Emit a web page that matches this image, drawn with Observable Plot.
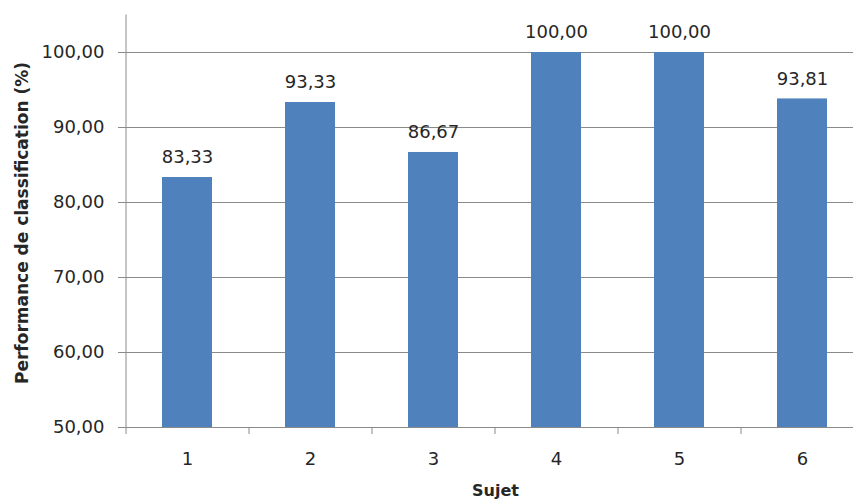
<!DOCTYPE html>
<html>
<head>
<meta charset="utf-8">
<script src="https://cdn.jsdelivr.net/npm/d3@7"></script>
<script src="https://cdn.jsdelivr.net/npm/@observablehq/plot@0.6"></script>
<style>
  html, body { margin: 0; padding: 0; background: #fff; }
  #chart svg { display: block; }
</style>
</head>
<body>
<div id="chart"></div>
<script>
const sujets = [1, 2, 3, 4, 5, 6];
const performance = [83.33, 93.33, 86.67, 100.00, 100.00, 93.81];
const yTicks = [50, 60, 70, 80, 90, 100];
const xTitle = "Sujet";
const yTitle = "Performance de classification (%)";

const data = sujets.map((s, i) => ({sujet: s, value: performance[i]}));
const fmt = v => v.toFixed(2).replace(".", ",");
const bandEdges = sujets.map(s => s - 0.5).concat([sujets[sujets.length - 1] + 0.5]);

const gridColor = "#8a8a8a";
const textColor = "#262626";
const barColor = "#4f81bd";

const chart = Plot.plot({
  width: 853,
  height: 499,
  marginLeft: 125,
  marginRight: 0,
  marginTop: 14,
  marginBottom: 72,
  style: {fontFamily: "DejaVu Sans", fontSize: "18px", color: textColor, background: "#fff"},
  x: {type: "linear", domain: [0.5, 6.5], range: [125.5, 863.5]},
  y: {domain: [50, 105], range: [427, 14.5]},
  marks: [
    Plot.gridY(yTicks, {stroke: gridColor, strokeOpacity: 1, strokeWidth: 1}),
    Plot.rectY(data, {
      x1: d => d.sujet - 0.5, x2: d => d.sujet + 0.5,
      y1: 50, y2: "value",
      fill: barColor, insetLeft: 36.5, insetRight: 36.5
    }),
    Plot.ruleX([0.5], {y1: 50, y2: 105, stroke: gridColor, strokeWidth: 1}),
    Plot.axisY({
      ticks: yTicks, tickFormat: fmt, tickSize: 7, tickPadding: 14,
      stroke: gridColor, strokeOpacity: 1, fill: textColor, fontSize: 18, label: null
    }),
    Plot.axisX({
      ticks: bandEdges, tickFormat: () => "", tickSize: 7,
      stroke: gridColor, strokeOpacity: 1, label: null
    }),
    Plot.axisX({
      ticks: sujets, tickFormat: d => String(d), tickSize: 0, tickPadding: 25,
      fill: textColor, fontSize: 18, label: null
    }),
    Plot.text(data, {
      x: "sujet", y: "value", text: d => fmt(d.value),
      dy: -20, lineAnchor: "middle", textAnchor: "middle",
      fill: textColor, fontSize: 18
    }),
    Plot.text([yTitle], {
      frameAnchor: "left", rotate: -90, dx: -103, dy: 2,
      fontWeight: "bold", fontSize: 17, fill: textColor, lineAnchor: "middle", textAnchor: "middle"
    }),
    Plot.text([xTitle], {
      frameAnchor: "bottom", dx: 6, dy: 63,
      fontWeight: "bold", fontSize: 16, fill: textColor, lineAnchor: "middle", textAnchor: "middle"
    })
  ]
});
document.getElementById("chart").appendChild(chart);
</script>
</body>
</html>
